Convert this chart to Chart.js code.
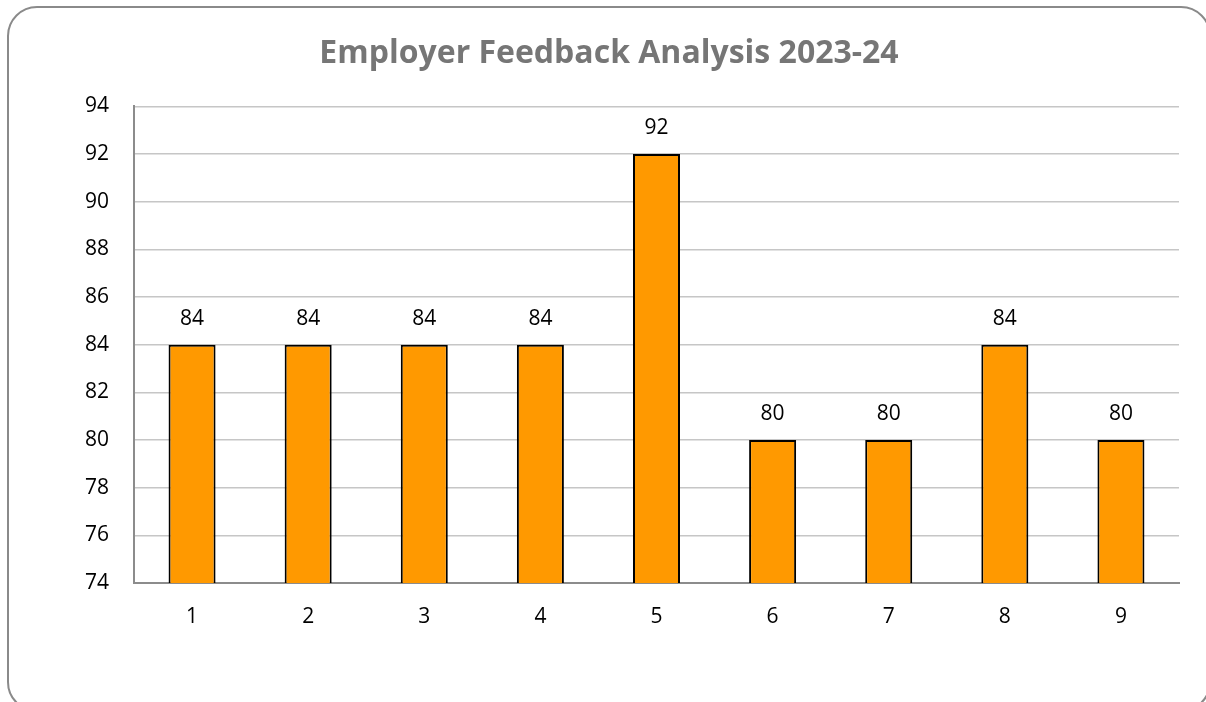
<!DOCTYPE html>
<html>
<head>
<meta charset="utf-8">
<script src="https://cdn.jsdelivr.net/npm/chart.js@4.4.1/dist/chart.umd.min.js"></script>
<style>
  html, body { margin: 0; padding: 0; background: #fff; }
  #wrap { position: relative; width: 1206px; height: 702px; overflow: hidden; }
  #frame {
    position: absolute; left: 7px; top: 6px; width: 1200px; height: 702px;
    border: 2px solid #8a8a8a; border-radius: 30px;
  }
  #feedbackChart { position: absolute; left: 0; top: 0; }
</style>
</head>
<body>
<div id="wrap">
  <div id="frame"></div>
  <canvas id="feedbackChart" width="1206" height="702"></canvas>
</div>
<script>
const categories = ["1", "2", "3", "4", "5", "6", "7", "8", "9"];
const scores = [84, 84, 84, 84, 92, 80, 80, 84, 80];
const yTicks = [74, 76, 78, 80, 82, 84, 86, 88, 90, 92, 94];

// values printed over each bar
const barLabels = {
  id: "barLabels",
  afterDatasetsDraw(chart) {
    const ctx = chart.ctx;
    const meta = chart.getDatasetMeta(0);
    ctx.save();
    ctx.font = "21px 'Open Sans'";
    ctx.fillStyle = "#000";
    ctx.textAlign = "center";
    ctx.textBaseline = "middle";
    meta.data.forEach((bar, i) => {
      ctx.fillText(String(scores[i]), bar.x, bar.y - 26);
    });
    ctx.restore();
  }
};

const ctx = document.getElementById("feedbackChart").getContext("2d");
const myChart = new Chart(ctx, {
  type: "bar",
  data: {
    labels: categories,
    datasets: [
      {
        data: scores,
        backgroundColor: "#ff9900",
        borderColor: "#000",
        borderWidth: 2,
        borderSkipped: false,
        barPercentage: 0.405,
        categoryPercentage: 1,
      },
    ],
  },
  options: {
    responsive: false,
    animation: false,
    layout: { padding: { left: 39, right: 27, top: 0, bottom: 0 } },
    plugins: {
      legend: { display: false },
      tooltip: { enabled: false },
      title: {
        display: true,
        text: "Employer Feedback Analysis 2023-24",
        color: "#767676",
        font: { family: "'Open Sans'", size: 32, weight: "bold" },
        padding: { top: 35, bottom: 33 },
      },
    },
    scales: {
      x: {
        grid: { display: false, drawTicks: false },
        border: { color: "#8c8c8c", width: 2 },
        ticks: { color: "#000", font: { family: "'Open Sans'", size: 21 }, padding: 21 },
        afterFit(scale) { scale.height = 119; },
      },
      y: {
        min: 74,
        max: 94,
        afterBuildTicks(scale) { scale.ticks = yTicks.map(v => ({ value: v })); },
        grid: { color: "#c6c6c6", lineWidth: 1.5, drawTicks: false },
        border: { color: "#8c8c8c", width: 2 },
        ticks: { color: "#000", font: { family: "'Open Sans'", size: 21 }, padding: 25 },
        afterFit(scale) { scale.width = 95; },
      },
    },
  },
  plugins: [barLabels],
});
</script>
</body>
</html>
